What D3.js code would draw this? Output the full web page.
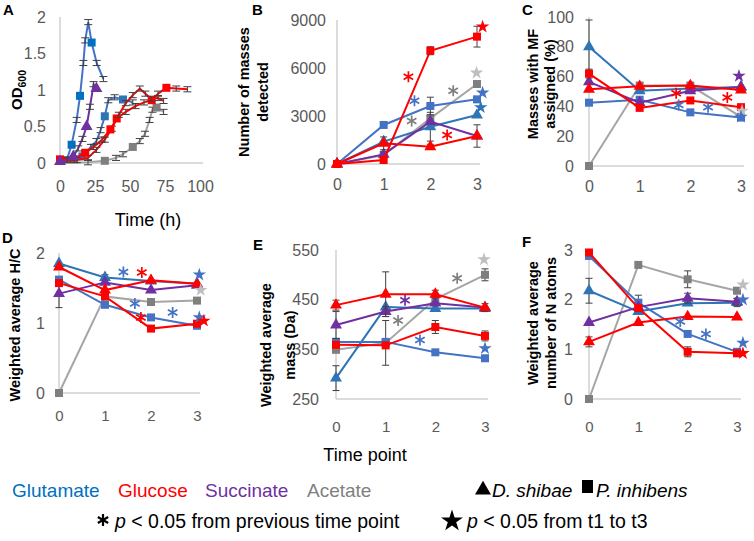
<!DOCTYPE html>
<html><head><meta charset="utf-8">
<script src="https://cdn.jsdelivr.net/npm/d3@7"></script>
<style>body{margin:0;background:#fff;} svg{display:block;font-family:"Liberation Sans",Arial,sans-serif;}</style>
</head><body><svg id="c" width="754" height="541"></svg>
<script>
// ---------- Panel A: growth curves (time h, OD600) ----------
const aGluP_t = [0, 5, 8.3, 11.9, 14.3, 16.7, 18, 20.2, 22.6, 26.2, 31];
const aGluP_od = [0.03, 0.05, 0.25, 0.59, 0.92, 1.37, 1.68, 1.93, 1.65, 1.37, 1.15];
const aGluP_mk = [2, 4, 8];
const aSucD_t = [0, 5, 9.5, 13, 16, 19, 21.4, 24, 26];
const aSucD_od = [0.02, 0.04, 0.09, 0.2, 0.33, 0.5, 0.77, 1.08, 1.02];
const aSucD_mk = [0, 2, 5, 8];
const aGluD_t = [0, 10, 16, 22, 26, 29, 32, 34.5, 39, 45, 52];
const aGluD_od = [0.02, 0.04, 0.09, 0.22, 0.3, 0.45, 0.64, 0.86, 0.9, 0.87, 0.83];
const aGluD_mk = [2, 6, 9];
const aGlcP_t = [0, 10, 18, 24, 30, 36, 42, 47, 52, 57, 61, 65, 70, 74];
const aGlcP_od = [0.05, 0.06, 0.14, 0.22, 0.32, 0.46, 0.66, 0.82, 0.93, 1.02, 0.95, 0.88, 0.89, 0.85];
const aGlcP_mk = [0, 2, 5];
const aGlcD_t = [0, 12, 20, 26, 32, 37, 40.5, 47, 54, 60, 65.5, 70, 76, 83, 91];
const aGlcD_od = [0.03, 0.04, 0.07, 0.18, 0.32, 0.47, 0.61, 0.7, 0.78, 0.83, 0.86, 0.95, 1.03, 1.02, 1.01];
const aGlcD_mk = [6, 10, 12];
const aAcP_t = [0, 20, 32, 40, 45, 52, 57, 60.7, 64, 66, 69, 74];
const aAcP_od = [0.0, 0.01, 0.03, 0.07, 0.12, 0.22, 0.3, 0.4, 0.59, 0.73, 0.76, 0.7];
const aAcP_mk = [2, 5, 10];
const aXTicks = [0, 25, 50, 75, 100];
const aYTicks = [0, 0.5, 1, 1.5, 2];

// ---------- Panels B-F: time points ----------
const timePoints = [0, 1, 2, 3];
// B: number of masses detected
const bGluD = [0, 1400, 2330, 3060],  bGluDErr = [0, 0, 900, 0];
const bGlcD = [0, 1290, 1080, 1750],  bGlcDErr = [0, 400, 150, 0];
const bSucD = [0, 600, 2650, 1750],   bSucDErr = [0, 150, 0, 700];
const bGluP = [0, 2440, 3625, 4040],  bGluPErr = [0, 0, 550, 0];
const bGlcP = [0, 250, 7080, 7960],   bGlcPErr = [0, 0, 250, 650];
const bAcP  = [0, 560, 2850, 5000],   bAcPErr  = [0, 200, 0, 200];
const bYTicks = [0, 3000, 6000, 9000];
// C: masses with MF assigned (%)
const cGluD = [80, 50.5, 52, 53],     cGluDErr = [18, 0, 0, 0];
const cGlcD = [51.5, 53.5, 54, 51],   cGlcDErr = [0, 0, 0, 0];
const cSucD = [56.5, 42.5, 50.5, 53], cSucDErr = [0, 0, 0, 0];
const cGluP = [42.5, 44.5, 36, 32.5], cGluPErr = [0, 0, 0, 0];
const cGlcP = [62, 39, 44, 39.5],     cGlcPErr = [3, 0, 0, 0];
const cAcP  = [0, 54, 54, 33],        cAcPErr  = [0, 0, 0, 0];
const cYTicks = [0, 20, 40, 60, 80, 100];
// D: weighted average H/C
const dGluD = [1.85, 1.65, 1.6, 1.56],  dGluDErr = [0, 0.04, 0, 0];
const dGlcD = [1.8, 1.47, 1.61, 1.56],  dGlcDErr = [0, 0, 0, 0];
const dSucD = [1.42, 1.58, 1.47, 1.54], dSucDErr = [0.2, 0, 0, 0];
const dGluP = [1.62, 1.26, 1.08, 0.96], dGluPErr = [0, 0, 0, 0];
const dGlcP = [1.57, 1.38, 0.92, 0.99], dGlcPErr = [0, 0, 0, 0];
const dAcP  = [0, 1.38, 1.3, 1.32],     dAcPErr  = [0, 0, 0, 0];
const dYTicks = [0, 1, 2];
// E: weighted average mass (Da)
const eGluD = [292, 435, 432, 432], eGluDErr = [25, 0, 0, 0];
const eGlcD = [439, 461, 461, 434], eGlcDErr = [10, 45, 8, 0];
const eSucD = [399, 426, 443, 434], eSucDErr = [27, 10, 0, 8];
const eGluP = [365, 365, 344, 332], eGluPErr = [0, 0, 0, 0];
const eGlcP = [359, 358, 395, 377], eGlcPErr = [0, 0, 13, 10];
const eAcP  = [349, 363, 451, 500], eAcPErr  = [0, 45, 0, 12];
const eYTicks = [250, 350, 450, 550];
// F: weighted average number of N atoms
const fGluD = [2.18, 1.76, 1.93, 1.94], fGluDErr = [0.25, 0, 0, 0.08];
const fGlcD = [1.15, 1.54, 1.66, 1.65], fGlcDErr = [0.1, 0, 0, 0];
const fSucD = [1.54, 1.85, 2.03, 1.96], fSucDErr = [0, 0, 0.1, 0.07];
const fGluP = [2.88, 1.94, 1.31, 0.95], fGluPErr = [0, 0.15, 0.05, 0];
const fGlcP = [2.95, 1.83, 0.95, 0.92], fGlcPErr = [0, 0, 0.1, 0];
const fAcP  = [0, 2.7, 2.41, 2.18],     fAcPErr  = [0, 0, 0.17, 0.05];
const fYTicks = [0, 1, 2, 3];

// significance marks: [x, y, kind, colour key]
const bStars = [[1.53,5460,"*","glc"],[1.66,3960,"*","gluP"],[1.6,2690,"*","ac"],[2.49,4580,"*","ac"],[2.36,1810,"*","glc"],[3.12,8580,"S","glc"],[2.99,5700,"S","acL"],[3.12,4450,"S","gluP"],[3.08,3540,"S","gluD"]];
const cStars = [[1.72,48.8,"*","glc"],[1.77,41,"*","gluP"],[2.35,39.4,"*","gluP"],[2.73,46,"*","glc"],[2.96,60.4,"S","suc"],[3.02,37,"S","acL"],[3.0,33,"S","gluP"]];
const dStars = [[1.4,1.73,"*","gluP"],[1.8,1.72,"*","glc"],[1.65,1.28,"*","gluP"],[1.78,1.08,"*","glc"],[2.47,1.15,"*","gluP"],[3.05,1.69,"S","gluP"],[3.08,1.47,"S","acL"],[3.05,1.08,"S","gluP"],[3.15,1.03,"S","glc"]];
const eStars = [[1.39,449,"*","suc"],[1.25,408,"*","ac"],[2.44,493,"*","ac"],[1.69,369,"*","gluP"],[2.98,531,"S","acL"],[3.0,352,"S","gluP"]];
const fStars = [[1.85,1.56,"*","gluP"],[2.37,1.31,"*","gluP"],[3.12,2.3,"S","acL"],[3.12,2.0,"S","gluP"],[3.12,1.13,"S","gluP"],[3.12,0.92,"S","glc"]];

const legendSubstrates = ["Glutamate", "Glucose", "Succinate", "Acetate"];

// ---------- styles ----------
const lineCol = {gluD:"#2E75B6", glcD:"#FF0000", sucD:"#7030A0", gluP:"#4472C4", glcP:"#FF0000", acP:"#A5A5A5"};
const markCol = {gluD:"#2E75B6", glcD:"#FF0000", sucD:"#7030A0", gluP:"#4472C4", glcP:"#FF0000", acP:"#7F7F7F"};
const starCol = {glc:"#FF0000", gluP:"#4472C4", gluD:"#2E75B6", ac:"#7F7F7F", acL:"#BFBFBF", suc:"#7030A0"};
const isTri = {gluD:true, glcD:true, sucD:true, gluP:false, glcP:false, acP:false};
const legendCol = ["#0070C0", "#FF0000", "#7030A0", "#7F7F7F"];
const legendX = [12, 118, 205, 307];

const svg = d3.select("#c");
const triPath = d3.symbol().type(d3.symbolTriangle).size(62)();
const sqPath = d3.symbol().type(d3.symbolSquare).size(64)();
function asterisk(r){let p="";for(const a of [90,30,-30]){const rad=a*Math.PI/180,dx=Math.cos(rad)*r,dy=Math.sin(rad)*r;p+=`M${-dx},${-dy}L${dx},${dy}`;}return p;}
const starPath = d3.symbol().type(d3.symbolStar).size(56)();

function panel(c){
  const x = d3.scaleLinear().domain(c.xd).range([c.x0, c.x1]);
  const y = d3.scaleLinear().domain(c.yd).range([c.y0, c.y1]);
  const g = svg.append("g");
  g.append("line").attr("x1",c.x0).attr("x2",c.x0).attr("y1",c.y0).attr("y2",c.y1).attr("stroke","#D0D0D0").attr("stroke-width",1.5);
  g.append("line").attr("x1",c.x0).attr("x2",c.xEnd).attr("y1",c.y0).attr("y2",c.y0).attr("stroke","#D0D0D0").attr("stroke-width",1.5);
  const ay = g.append("g").attr("transform",`translate(${c.x0},0)`)
    .call(d3.axisLeft(y).tickValues(c.yt).tickSize(0).tickPadding(c.yp).tickFormat(d3.format("")));
  ay.select(".domain").remove();
  ay.attr("font-family",null).attr("font-size",null);
  ay.selectAll("text").attr("fill","#595959").style("font-size",c.yfs+"px");
  const ax = g.append("g").attr("transform",`translate(0,${c.y0})`)
    .call(d3.axisBottom(x).tickValues(c.xt).tickSize(0).tickPadding(c.xp).tickFormat(d3.format("")));
  ax.select(".domain").remove();
  ax.attr("font-family",null).attr("font-size",null);
  ax.selectAll("text").attr("fill","#595959").style("font-size",c.xfs+"px");
  return {x, y, g};
}

function errBar(g, x, y, t, v, e, cap){
  if(!e) return;
  const px = x(t), y1 = y(v - e), y2 = y(v + e);
  g.append("path").attr("d",`M${px},${y1}V${y2}M${px-cap},${y1}H${px+cap}M${px-cap},${y2}H${px+cap}`)
    .attr("stroke","#404040").attr("stroke-width",1).attr("fill","none");
}

function drawSeries(p, key, vals, errs){
  const pts = timePoints.map((t,i)=>({t, v:vals[i], e:errs[i]}));
  p.g.append("path").datum(pts).attr("fill","none").attr("stroke",lineCol[key]).attr("stroke-width",2)
    .attr("d", d3.line().x(d=>p.x(d.t)).y(d=>p.y(d.v)));
  pts.forEach(d=>errBar(p.g, p.x, p.y, d.t, d.v, d.e, 3.5));
  p.g.selectAll(null).data(pts).enter().append("path")
    .attr("transform",d=>`translate(${p.x(d.t)},${p.y(d.v)})`)
    .attr("d", isTri[key] ? triPath : sqPath).attr("fill", markCol[key]);
}

function drawStars(p, list){
  list.forEach(([t,v,k,ck])=>{
    const px=p.x(t), py=p.y(v);
    if(k==="*") p.g.append("path").attr("d",asterisk(5.5)).attr("transform",`translate(${px},${py})`)
      .attr("stroke",starCol[ck]).attr("stroke-width",1.7).attr("fill","none");
    else p.g.append("path").attr("d",starPath).attr("transform",`translate(${px},${py})`).attr("fill",starCol[ck]);
  });
}

// ---------- Panel A ----------
const pA = panel({xd:[0,100], yd:[0,2], x0:60, x1:200, xEnd:203, y0:163, y1:17, yt:aYTicks, xt:aXTicks, yp:14, xp:18, yfs:16, xfs:16});
function growth(ts, ods, mk, lc, mc, tri){
  const pts = ts.map((t,i)=>({t, v:ods[i], m:mk.includes(i)}));
  pA.g.append("path").datum(pts).attr("fill","none").attr("stroke",lc).attr("stroke-width",2)
    .attr("d", d3.line().x(d=>pA.x(d.t)).y(d=>pA.y(d.v)));
  pts.forEach(d=>{ if(!d.m && d.t>0) errBar(pA.g, pA.x, pA.y, d.t, d.v, 0.035, 4); });
  pA.g.selectAll(null).data(pts.filter(d=>d.m)).enter().append("path")
    .attr("transform",d=>`translate(${pA.x(d.t)},${pA.y(d.v)})`)
    .attr("d", tri ? triPath : sqPath).attr("fill", mc);
}
growth(aAcP_t, aAcP_od, aAcP_mk, "#A5A5A5", "#7F7F7F", false);
growth(aGluD_t, aGluD_od, aGluD_mk, "#4472C4", "#2E75B6", false);
growth(aGluP_t, aGluP_od, aGluP_mk, "#4472C4", "#0070C0", false);
growth(aGlcD_t, aGlcD_od, aGlcD_mk, "#FF0000", "#FF0000", false);
growth(aGlcP_t, aGlcP_od, aGlcP_mk, "#FF0000", "#FF0000", false);
growth(aSucD_t, aSucD_od, aSucD_mk, "#7030A0", "#7030A0", true);

// ---------- Panels B-F ----------
const pB = panel({xd:[0,3], yd:[0,9000], x0:337, x1:477, xEnd:480, y0:164, y1:20, yt:bYTicks, xt:timePoints, yp:11, xp:15, yfs:16, xfs:16});
const pC = panel({xd:[0,3], yd:[0,100], x0:589, x1:741, xEnd:744, y0:166, y1:17, yt:cYTicks, xt:timePoints, yp:15, xp:15, yfs:16, xfs:16});
const pD = panel({xd:[0,3], yd:[0,2], x0:59, x1:197, xEnd:200, y0:393, y1:253, yt:dYTicks, xt:timePoints, yp:14, xp:17, yfs:16, xfs:15});
const pE = panel({xd:[0,3], yd:[250,550], x0:336, x1:485, xEnd:488, y0:399, y1:250, yt:eYTicks, xt:timePoints, yp:17, xp:22, yfs:16, xfs:15});
const pF = panel({xd:[0,3], yd:[0,3], x0:589, x1:737, xEnd:741, y0:399, y1:250, yt:fYTicks, xt:timePoints, yp:16, xp:22, yfs:16, xfs:15});

function drawAll(p, s){
  drawSeries(p,"acP",s[5][0],s[5][1]);
  drawSeries(p,"gluD",s[0][0],s[0][1]);
  drawSeries(p,"gluP",s[3][0],s[3][1]);
  drawSeries(p,"sucD",s[2][0],s[2][1]);
  drawSeries(p,"glcD",s[1][0],s[1][1]);
  drawSeries(p,"glcP",s[4][0],s[4][1]);
}
drawAll(pB, [[bGluD,bGluDErr],[bGlcD,bGlcDErr],[bSucD,bSucDErr],[bGluP,bGluPErr],[bGlcP,bGlcPErr],[bAcP,bAcPErr]]);
drawAll(pC, [[cGluD,cGluDErr],[cGlcD,cGlcDErr],[cSucD,cSucDErr],[cGluP,cGluPErr],[cGlcP,cGlcPErr],[cAcP,cAcPErr]]);
drawAll(pD, [[dGluD,dGluDErr],[dGlcD,dGlcDErr],[dSucD,dSucDErr],[dGluP,dGluPErr],[dGlcP,dGlcPErr],[dAcP,dAcPErr]]);
drawAll(pE, [[eGluD,eGluDErr],[eGlcD,eGlcDErr],[eSucD,eSucDErr],[eGluP,eGluPErr],[eGlcP,eGlcPErr],[eAcP,eAcPErr]]);
drawAll(pF, [[fGluD,fGluDErr],[fGlcD,fGlcDErr],[fSucD,fSucDErr],[fGluP,fGluPErr],[fGlcP,fGlcPErr],[fAcP,fAcPErr]]);
drawStars(pB,bStars); drawStars(pC,cStars); drawStars(pD,dStars); drawStars(pE,eStars); drawStars(pF,fStars);

// ---------- texts ----------
const T = svg.append("g");
[["A",3,15],["B",252,15],["C",522,15],["D",2,243],["E",253,250],["F",522,247]].forEach(([l,x,y])=>
  T.append("text").attr("x",x).attr("y",y).attr("font-weight","bold").attr("font-size",15).text(l));
function vtitle(lines, xs, cy){
  lines.forEach((s,i)=>{
    T.append("text").attr("transform",`translate(${xs[i]},${cy}) rotate(-90)`).attr("text-anchor","middle")
      .attr("dy","0.35em").attr("font-weight","bold").attr("font-size",14.5).text(s);
  });
}
const od = T.append("text").attr("transform","translate(17,90) rotate(-90)").attr("text-anchor","middle")
  .attr("dy","0.35em").attr("font-weight","bold").attr("font-size",15);
od.append("tspan").text("OD");
od.append("tspan").attr("font-size",10.5).attr("dy","4").text("600");
vtitle(["Number of masses","detected"],[244,263],92);
vtitle(["Masses with MF","assigned (%)"],[533,550],84);
vtitle(["Weighted average H/C"],[15],325);
vtitle(["Weighted average","mass (Da)"],[266,290],345);
vtitle(["Weighted average","number of N atoms"],[533,551],323);

T.append("text").attr("x",148).attr("y",226).attr("text-anchor","middle").attr("font-size",18).text("Time (h)");
T.append("text").attr("x",365).attr("y",461).attr("text-anchor","middle").attr("font-size",18).text("Time point");

legendSubstrates.forEach((s,i)=>T.append("text").attr("x",legendX[i]).attr("y",497).attr("font-size",19).attr("fill",legendCol[i]).text(s));
T.append("path").attr("d",d3.symbol().type(d3.symbolTriangle).size(110)()).attr("transform","translate(483,490)").attr("fill","#000");
T.append("text").attr("x",492).attr("y",497).attr("font-size",19).attr("font-style","italic").text("D. shibae");
T.append("rect").attr("x",582).attr("y",480).attr("width",11).attr("height",13).attr("fill","#000");
T.append("text").attr("x",596).attr("y",497).attr("font-size",19).attr("font-style","italic").text("P. inhibens");

T.append("path").attr("d",asterisk(6)).attr("transform","translate(103,520)").attr("stroke","#000").attr("stroke-width",2.2);
const l1 = T.append("text").attr("x",115).attr("y",528).attr("font-size",19.5);
l1.append("tspan").attr("font-style","italic").text("p");
l1.append("tspan").text(" < 0.05 from previous time point");
T.append("path").attr("d",d3.symbol().type(d3.symbolStar).size(150)()).attr("transform","translate(452,521)").attr("fill","#000");
const l2 = T.append("text").attr("x",467).attr("y",528).attr("font-size",19.5);
l2.append("tspan").attr("font-style","italic").text("p");
l2.append("tspan").text(" < 0.05 from t1 to t3");
</script></body></html>
